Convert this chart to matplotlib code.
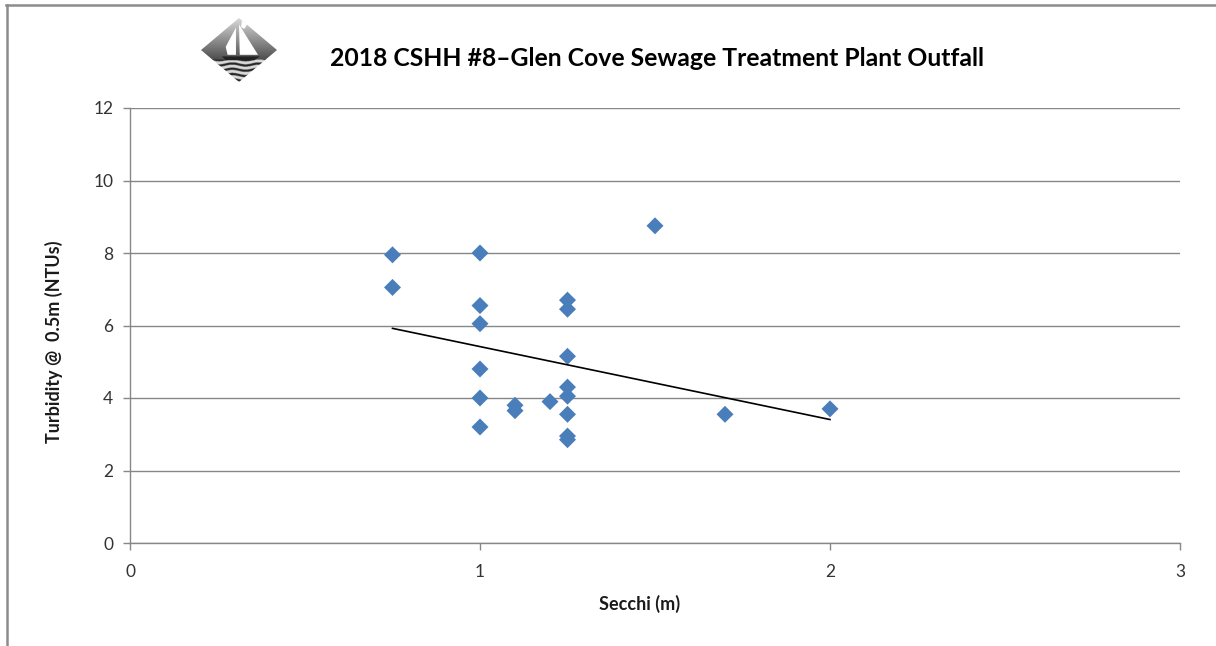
import numpy as np
import matplotlib
matplotlib.use("Agg")
import matplotlib.pyplot as plt
from matplotlib.patches import Polygon
from matplotlib.lines import Line2D

# secchi depth (m) vs turbidity at 0.5 m (NTU)
secchi = [0.75, 0.75, 1.0, 1.0, 1.0, 1.0, 1.0, 1.0, 1.1, 1.1, 1.2,
          1.25, 1.25, 1.25, 1.25, 1.25, 1.25, 1.25, 1.25, 1.5, 1.7, 2.0]
turbidity = [7.95, 7.05, 8.0, 6.55, 6.05, 4.8, 4.0, 3.2, 3.8, 3.65, 3.9,
             6.7, 6.45, 5.15, 4.3, 4.05, 3.55, 2.95, 2.85, 8.75, 3.55, 3.7]

x_ticks = [0, 1, 2, 3]
y_ticks = [0, 2, 4, 6, 8, 10, 12]

title = "2018 CSHH #8\u2013Glen Cove Sewage Treatment Plant Outfall"
xlabel = "Secchi (m)"
ylabel = "Turbidity @  0.5m (NTUs)"

plt.rcParams["font.family"] = ["Lato", "DejaVu Sans"]

W, H = 1216, 646
fig = plt.figure(figsize=(W / 100, H / 100), dpi=100)
fig.patch.set_facecolor("white")

grey = "#878787"

# chart frame (top and left edge only are visible)
fig.add_artist(Line2D([6 / W, 1], [1 - 5 / H, 1 - 5 / H], color="#8c8c8c", lw=1.8))
fig.add_artist(Line2D([7 / W, 7 / W], [0, 1 - 5 / H], color="#8c8c8c", lw=1.8))

ax = fig.add_axes([130 / W, 1 - 543 / H, 1050 / W, 435 / H])
ax.set_xlim(0, 3)
ax.set_ylim(0, 12)
ax.set_xticks(x_ticks)
ax.set_yticks(y_ticks)
ax.grid(axis="y", color=grey, lw=1)
ax.set_axisbelow(True)
for s in ["top", "right"]:
    ax.spines[s].set_visible(False)
for s in ["left", "bottom"]:
    ax.spines[s].set_color(grey)
    ax.spines[s].set_linewidth(1)
ax.tick_params(axis="y", direction="out", length=5, width=1, color=grey,
               labelsize=12.5, labelcolor="#333333", pad=7)
ax.tick_params(axis="x", direction="out", length=5, width=1, color=grey,
               labelsize=12.5, labelcolor="#333333", pad=10)

ax.scatter(secchi, turbidity, marker="D", s=75, color="#4a7ebb",
           edgecolors="none", zorder=3)

# linear trendline over the data range
k, b = np.polyfit(secchi, turbidity, 1)
xs = np.array([min(secchi), max(secchi)])
ax.plot(xs, k * xs + b, color="black", lw=1.2, zorder=4)

ax.set_xlabel(xlabel, fontsize=13, fontweight="bold", color="#1a1a1a")
ax.set_ylabel(ylabel, fontsize=13, fontweight="bold", color="#1a1a1a")
ax.xaxis.set_label_coords(0.4857, -0.12)
ax.yaxis.set_label_coords(-0.064, 0.462)

fig.text(657 / W, 1 - 58 / H, title, ha="center", va="center",
         fontsize=17.8, fontweight="bold", color="black")

# logo: shaded diamond with a sailboat and waves
lg = fig.add_axes([201 / W, 1 - 82 / H, 76 / W, 64 / H])
lg.set_xlim(-1, 1)
lg.set_ylim(-1, 1)
lg.axis("off")
diamond = Polygon([[0, 1], [1, 0], [0, -1], [-1, 0]], closed=True,
                  facecolor="none", edgecolor="none")
lg.add_patch(diamond)
gx, gy = np.meshgrid(np.linspace(-1, 1, 200), np.linspace(1, -1, 200))
img = np.clip(0.85 - (1 - gy) * 0.42, 0.15, 0.9)
waves = np.sin(gy * 38 + np.sin(gx * 9) * 1.2) > 0.2
img = np.where(gy < -0.3, np.where(waves, 0.15, 0.85), img)
im = lg.imshow(img, cmap="gray", vmin=0, vmax=1, extent=(-1, 1, -1, 1),
               aspect="auto", interpolation="bilinear")
im.set_clip_path(diamond)
lg.add_patch(Polygon([[0.0, 0.8], [0.5, -0.15], [0.02, -0.15]],
                     facecolor="white", edgecolor="none"))
lg.add_patch(Polygon([[-0.08, 0.7], [-0.35, 0.1], [-0.3, -0.15], [-0.08, -0.15]],
                     facecolor="white", edgecolor="none"))
lg.add_patch(Polygon([[-0.45, -0.2], [0.55, -0.2], [0.4, -0.32], [-0.35, -0.32]],
                     facecolor="#222222", edgecolor="none"))
lg.add_patch(Polygon([[0.08, 0.92], [0.22, 0.8], [0.14, 0.66], [0.05, 0.72]],
                     facecolor="white", edgecolor="none"))

fig.savefig("out.png", dpi=100, facecolor="white")
